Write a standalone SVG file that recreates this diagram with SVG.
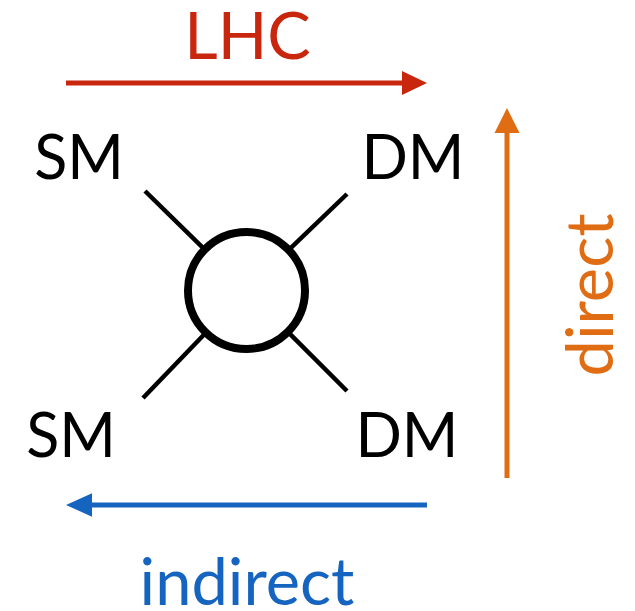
<svg xmlns="http://www.w3.org/2000/svg" width="635" height="611" viewBox="0 0 635 611">
<style>
.lbl{font-family:Lato,"Liberation Sans",sans-serif;font-size:61px;fill:#000;text-anchor:middle}
.big{font-family:Lato,"Liberation Sans",sans-serif;font-size:65px;text-anchor:middle}
.leg{stroke:#000;stroke-width:4.5;stroke-linecap:butt}
</style>
<rect width="635" height="611" fill="#fff"/>
<g id="connectors">
  <line class="leg" x1="145" y1="191" x2="246.5" y2="290.5"/>
  <line class="leg" x1="347" y1="194" x2="246.5" y2="290.5"/>
  <line class="leg" x1="143" y1="398" x2="246.5" y2="290.5"/>
  <line class="leg" x1="347" y1="391" x2="246.5" y2="290.5"/>
</g>
<g id="vertex">
  <circle cx="246.5" cy="290.5" r="58.5" fill="#fff" stroke="#000" stroke-width="8"/>
</g>
<g id="sm-top"><text class="lbl" x="79" y="179">SM</text></g>
<g id="dm-top"><text class="lbl" x="413" y="179">DM</text></g>
<g id="sm-bottom"><text class="lbl" x="71" y="457">SM</text></g>
<g id="dm-bottom"><text class="lbl" x="407" y="457">DM</text></g>
<g id="lhc">
  <line x1="66" y1="83" x2="404" y2="83" stroke="#C9260E" stroke-width="5"/>
  <polygon points="402,71 427,83 402,95" fill="#C9260E"/>
  <text class="big" x="247.5" y="59" fill="#C9260E">LHC</text>
</g>
<g id="direct">
  <line x1="507" y1="478" x2="507" y2="131" stroke="#E06C13" stroke-width="5"/>
  <polygon points="494.5,133 507,108 519.5,133" fill="#E06C13"/>
  <text class="big" transform="translate(613,295) rotate(-90)" x="0" y="0" fill="#E06C13">direct</text>
</g>
<g id="indirect">
  <line x1="427" y1="505" x2="90" y2="505" stroke="#1565C0" stroke-width="5"/>
  <polygon points="92,493.3 66,505 92,516.7" fill="#1565C0"/>
  <text class="big" x="247" y="605" fill="#1565C0">indirect</text>
</g>
</svg>
